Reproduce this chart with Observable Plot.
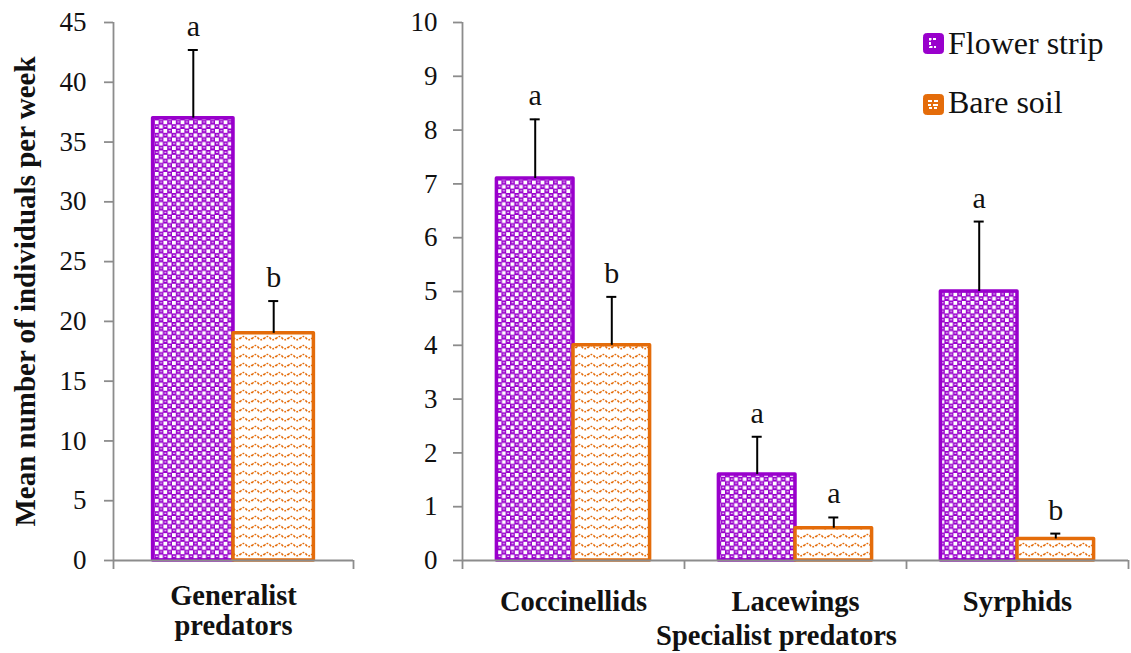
<!DOCTYPE html>
<html>
<head>
<meta charset="utf-8">
<script src="https://cdn.jsdelivr.net/npm/d3@7"></script>
<script src="https://cdn.jsdelivr.net/npm/@observablehq/plot@0.6"></script>
<style>
  html, body { margin: 0; padding: 0; background: #fff; }
  #wrap { position: relative; width: 1131px; height: 653px; overflow: hidden; font-family: "Liberation Serif", "Times New Roman", serif; }
  #left, #right { position: absolute; top: 0; }
  #left { left: 0; }
  #right { left: 360px; }
  .lg-text { position: absolute; left: 948px; font-size: 32px; line-height: 32px; color: #111; white-space: nowrap; }
  .lg-sw { position: absolute; left: 923px; }
</style>
</head>
<body>
<svg width="0" height="0" style="position:absolute">
  <defs>
    <pattern id="pflower" width="8.6" height="8.6" patternUnits="userSpaceOnUse">
      <rect width="8.6" height="8.6" fill="#9900cc"></rect>
      <rect x="0" y="0" width="3.8" height="3.8" fill="#ffffff"></rect>
      <rect x="4.3" y="4.3" width="3.8" height="3.8" fill="#ffffff"></rect>
      <rect x="5.3" y="1.2" width="2" height="1" fill="#ffffff"></rect>
      <rect x="1" y="5.5" width="2" height="1" fill="#ffffff"></rect>
    </pattern>
    <pattern id="pbare" width="12" height="9" patternUnits="userSpaceOnUse">
      <rect width="12" height="9" fill="#ffffff"></rect>
      <path d="M0,6 Q3,1.5 6,5 T12,5" fill="none" stroke="#e46c0a" stroke-width="1.5" stroke-dasharray="2 1.3"></path>
    </pattern>
    <pattern id="pflowerlg" width="20" height="20" patternUnits="userSpaceOnUse">
      <rect width="20" height="20" fill="#9900cc"></rect>
      <path d="M13,6 H7 V14 H13" fill="none" stroke="#ffffff" stroke-width="2" stroke-dasharray="3 1.5"></path>
    </pattern>
    <pattern id="pbarelg" width="20" height="20" patternUnits="userSpaceOnUse">
      <rect width="20" height="20" fill="#e46c0a"></rect>
      <path d="M5,7 H9 M11,7 H15 M5,11 H8 M10,11 H15 M6,14 H9 M11,14 H14" fill="none" stroke="#ffffff" stroke-width="2"></path>
    </pattern>
  </defs>
</svg>
<div id="wrap">
  <div id="left"></div>
  <div id="right"></div>
  <svg class="lg-sw" style="top:33px" width="21" height="21"><rect x="0.5" y="0.5" width="20" height="20" rx="3" fill="url(#pflowerlg)" stroke="#9900cc"></rect></svg>
  <div class="lg-text" style="top:27px">Flower strip</div>
  <svg class="lg-sw" style="top:94px" width="21" height="21"><rect x="0.5" y="0.5" width="20" height="20" rx="3" fill="url(#pbarelg)" stroke="#e46c0a"></rect></svg>
  <div class="lg-text" style="top:86px">Bare soil</div>
</div>
<script>
// ---- data ----
const series = ["Flower strip", "Bare soil"];

const leftCategories = ["Generalist\npredators"];
const leftFlowerMean = [37.0];
const leftFlowerSE = [5.7];
const leftBareMean = [19.0];
const leftBareSE = [2.7];
const leftFlowerLetters = ["a"];
const leftBareLetters = ["b"];
const leftTicks = [0, 5, 10, 15, 20, 25, 30, 35, 40, 45];

const rightCategories = ["Coccinellids", "Lacewings", "Syrphids"];
const rightGroupLabel = ["Specialist predators"];
const rightFlowerMean = [7.1, 1.6, 5.0];
const rightFlowerSE = [1.1, 0.7, 1.3];
const rightBareMean = [4.0, 0.6, 0.4];
const rightBareSE = [0.9, 0.2, 0.1];
const rightFlowerLetters = ["a", "a", "a"];
const rightBareLetters = ["b", "a", "b"];
const rightTicks = [0, 1, 2, 3, 4, 5, 6, 7, 8, 9, 10];

const yTitle = "Mean number of individuals per week";

const fills = {"Flower strip": "url(#pflower)", "Bare soil": "url(#pbare)"};
const strokes = {"Flower strip": "#9900cc", "Bare soil": "#e46c0a"};
const axisGrey = "#8c8c8c";

function buildRows(cats, fm, fse, fl, bm, bse, bl, pad) {
  const rows = [];
  const half = 0.5 - pad;
  cats.forEach((c, i) => {
    [[fm, fse, fl], [bm, bse, bl]].forEach(([m, se, l], s) => {
      const x1 = i + pad + s * half;
      const x2 = x1 + half;
      rows.push({cat: c, series: series[s], value: m[i], top: m[i] + se[i], letter: l[i], x1, x2, xc: (x1 + x2) / 2});
    });
  });
  return rows;
}

function panel({cats, rows, yMax, ticks, width, marginLeft, marginRight, catDy, catLineHeight, tickPadding, extra}) {
  const n = cats.length;
  const pxPerUnit = (width - marginLeft - marginRight) / n;
  const capW = 5 / pxPerUnit; // error-bar cap half-width (5px) in x units
  const catRows = cats.map((c, i) => ({c, x: i + 0.5}));
  const marks = [
    Plot.axisY({ticks, tickSize: 9, tickPadding, stroke: axisGrey, strokeWidth: 1.8, fill: "#111", fontSize: 27, label: null}),
    Plot.axisX({ticks: d3.range(0, n + 1), tickSize: 9, stroke: axisGrey, strokeWidth: 1.8, tickFormat: () => "", label: null}),
    Plot.ruleX([0], {stroke: axisGrey, strokeWidth: 1.8}),
    ...series.map(s => Plot.rectY(rows.filter(r => r.series === s), {
      x1: "x1", x2: "x2", y1: 0, y2: "value",
      fill: fills[s], stroke: strokes[s], strokeWidth: 3.5, strokeLinejoin: "round"
    })),
    Plot.ruleY([0], {stroke: axisGrey, strokeWidth: 1.8}),
    Plot.ruleX(rows, {x: "xc", y1: "value", y2: "top", stroke: "#000", strokeWidth: 2}),
    Plot.ruleY(rows, {y: "top", x1: d => d.xc - capW, x2: d => d.xc + capW, stroke: "#000", strokeWidth: 2}),
    Plot.text(rows, {x: "xc", y: "top", text: "letter", dy: -14, lineAnchor: "bottom", fontSize: 30, fill: "#111"}),
    Plot.text(catRows, {x: "x", y: 0, text: "c", dy: catDy, lineAnchor: "top", lineHeight: catLineHeight, fontSize: 28.5, fontWeight: "bold", fill: "#111"}),
    ...extra
  ];
  return Plot.plot({
    width, height: 653,
    marginLeft, marginRight, marginTop: 22, marginBottom: 93,
    x: {domain: [0, n], axis: null},
    y: {domain: [0, yMax], axis: null},
    style: {fontFamily: "'Liberation Serif', 'Times New Roman', serif", background: "none", overflow: "visible"},
    marks
  });
}

const leftRows = buildRows(leftCategories, leftFlowerMean, leftFlowerSE, leftFlowerLetters, leftBareMean, leftBareSE, leftBareLetters, 0.165);
const rightRows = buildRows(rightCategories, rightFlowerMean, rightFlowerSE, rightFlowerLetters, rightBareMean, rightBareSE, rightBareLetters, 0.155);

const leftPlot = panel({
  cats: leftCategories, rows: leftRows, yMax: 45, ticks: leftTicks,
  width: 360, marginLeft: 113, marginRight: 7, catDy: 23, catLineHeight: 1.05, tickPadding: 18,
  extra: [
    Plot.text([yTitle], {frameAnchor: "left", dx: -88, rotate: -90, textAnchor: "middle", fontSize: 29, fontWeight: "bold", fill: "#111"})
  ]
});
const rightPlot = panel({
  cats: rightCategories, rows: rightRows, yMax: 10, ticks: rightTicks,
  width: 771, marginLeft: 102, marginRight: 3, catDy: 28, catLineHeight: 1.1, tickPadding: 16,
  extra: [
    Plot.text(rightGroupLabel, {x: 1.5, y: 0, dx: -19, dy: 64, lineAnchor: "top", fontSize: 28.5, fontWeight: "bold", fill: "#111"})
  ]
});
document.getElementById("left").appendChild(leftPlot);
document.getElementById("right").appendChild(rightPlot);
</script>
</body>
</html>
